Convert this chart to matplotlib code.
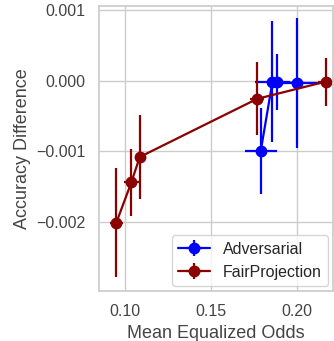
import numpy as np
import seaborn as sns
from matplotlib import pyplot as plt

sns.set_theme(style="whitegrid")
plt.rcParams['font.family'] = ['Liberation Sans', 'DejaVu Sans']

# Adversarial
adv_x = [0.179, 0.1858, 0.1886, 0.2002]
adv_y = [-0.00099, -0.00001, -0.00002, -0.00003]
adv_xerr = [0.0093, 0.010, 0.004, 0.0135]
adv_yerr = [0.00061, 0.00086, 0.0004, 0.00092]

# FairProjection
fp_x = [0.095, 0.1037, 0.1086, 0.1769, 0.2170]
fp_y = [-0.00201, -0.00144, -0.00108, -0.000255, -0.00001]
fp_xerr = [0.0037, 0.0044, 0.002, 0.004, 0.005]
fp_yerr = [0.00078, 0.00048, 0.0006, 0.00052, 0.00034]

fig = plt.figure(figsize=(3.34, 3.41), dpi=100)
ax = fig.add_axes([0.296, 0.147, 0.701, 0.835])

ax.errorbar(adv_x, adv_y, xerr=adv_xerr, yerr=adv_yerr, color='blue',
            marker='o', markersize=7.5, linewidth=1.6, label='Adversarial')
ax.errorbar(fp_x, fp_y, xerr=fp_xerr, yerr=fp_yerr, color='darkred',
            marker='o', markersize=7.5, linewidth=1.6, label='FairProjection')

ax.set_xlim(0.0848, 0.221)
ax.set_ylim(-0.00298, 0.00106)
ax.set_xticks([0.10, 0.15, 0.20])
ax.set_yticks([-0.002, -0.001, 0.0, 0.001])
ax.set_xticklabels(['0.10', '0.15', '0.20'])
ax.set_yticklabels(['\u22120.002', '\u22120.001', '0.000', '0.001'])
ax.tick_params(labelsize=11.5, colors='#444444')
ax.set_xlabel('Mean Equalized Odds', fontsize=13, color='#444444')
ax.set_ylabel('Accuracy Difference', fontsize=13, color='#444444')
for s in ax.spines.values():
    s.set_color('#cccccc')
ax.legend(loc='lower right', fontsize=11.5, borderaxespad=0.3)

plt.savefig('out.png', dpi=100)
